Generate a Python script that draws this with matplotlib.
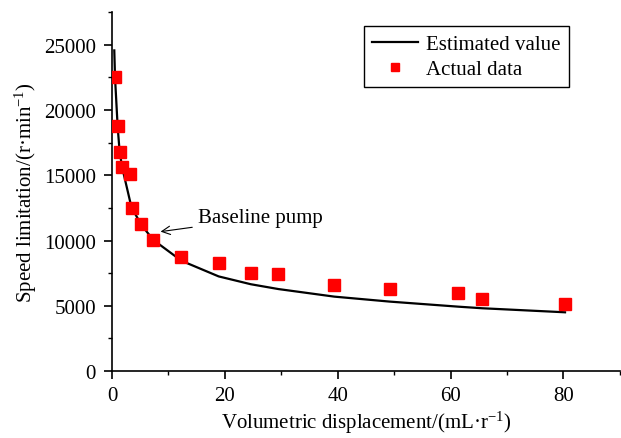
import matplotlib
matplotlib.use("Agg")
import matplotlib.pyplot as plt
from matplotlib.ticker import MultipleLocator

plt.rcParams['font.family'] = ['Liberation Serif', 'DejaVu Serif']
plt.rcParams['mathtext.fontset'] = 'custom'
plt.rcParams['mathtext.rm'] = 'Liberation Serif'
plt.rcParams['mathtext.it'] = 'Liberation Serif:italic'

# Estimated value (line)
est_x = [0.4, 0.53, 1.0, 1.35, 1.8, 3.2, 3.5, 5.2, 7.3, 12.3, 18.9, 24.6, 29.5, 39.4, 49.2, 61.4, 65.6, 80.3]
est_y = [24570, 22500, 18700, 16800, 15600, 13000, 12500, 11200, 10050, 8450, 7250, 6650, 6280, 5700, 5320, 4930, 4810, 4500]

# Actual data (markers)
act_x = [0.53, 1.0, 1.35, 1.8, 3.2, 3.5, 5.2, 7.3, 12.3, 18.9, 24.6, 29.5, 39.4, 49.2, 61.4, 65.6, 80.3]
act_y = [22500, 18740, 16820, 15620, 15110, 12500, 11270, 10070, 8770, 8280, 7520, 7410, 6600, 6290, 6010, 5550, 5160]

fig = plt.figure(figsize=(6.21, 4.39), dpi=100)
ax = fig.add_axes([0.1804, 0.1526, 0.8176, 0.8174])

ax.plot(est_x, est_y, color='black', lw=1.6, label='Estimated value', zorder=2)
ax.plot(act_x, act_y, ls='none', marker='s', ms=8, color='#ff0000', label='Actual data', zorder=3)

ax.set_xlim(0, 90)
ax.set_ylim(0, 27500)
ax.xaxis.set_major_locator(MultipleLocator(20))
ax.xaxis.set_minor_locator(MultipleLocator(10))
ax.yaxis.set_major_locator(MultipleLocator(5000))
ax.yaxis.set_minor_locator(MultipleLocator(2500))
for s in ['top', 'right']:
    ax.spines[s].set_visible(False)
for s in ['left', 'bottom']:
    ax.spines[s].set_linewidth(1.2)
ax.tick_params(axis='both', which='major', direction='out', length=5.5, width=1.2, labelsize=15, colors='black', pad=6)
ax.tick_params(axis='x', which='major', pad=5)
ax.tick_params(axis='both', which='minor', direction='out', length=3, width=1.0)

ax.set_xlabel('Volumetric displacement/(mL·r$^{-1}$)', fontsize=15, labelpad=3)
ax.set_ylabel('Speed limitation/(r·min$^{-1}$)', fontsize=15, labelpad=4)

ax.annotate('Baseline pump', xy=(8.6, 10680), xytext=(15.2, 11730),
            fontsize=15, va='center', ha='left',
            arrowprops=dict(arrowstyle='->', color='black', lw=0.8, shrinkA=2, shrinkB=0))

leg = ax.legend(loc='upper right', bbox_to_anchor=(0.9, 0.961), fontsize=15,
                frameon=True, fancybox=False, edgecolor='black', framealpha=1,
                handlelength=2.2, borderpad=0.4, labelspacing=0.25, handletextpad=0.4,
                borderaxespad=0, markerscale=0.8)
leg.get_frame().set_linewidth(1.0)

fig.savefig('out.png', dpi=100)
